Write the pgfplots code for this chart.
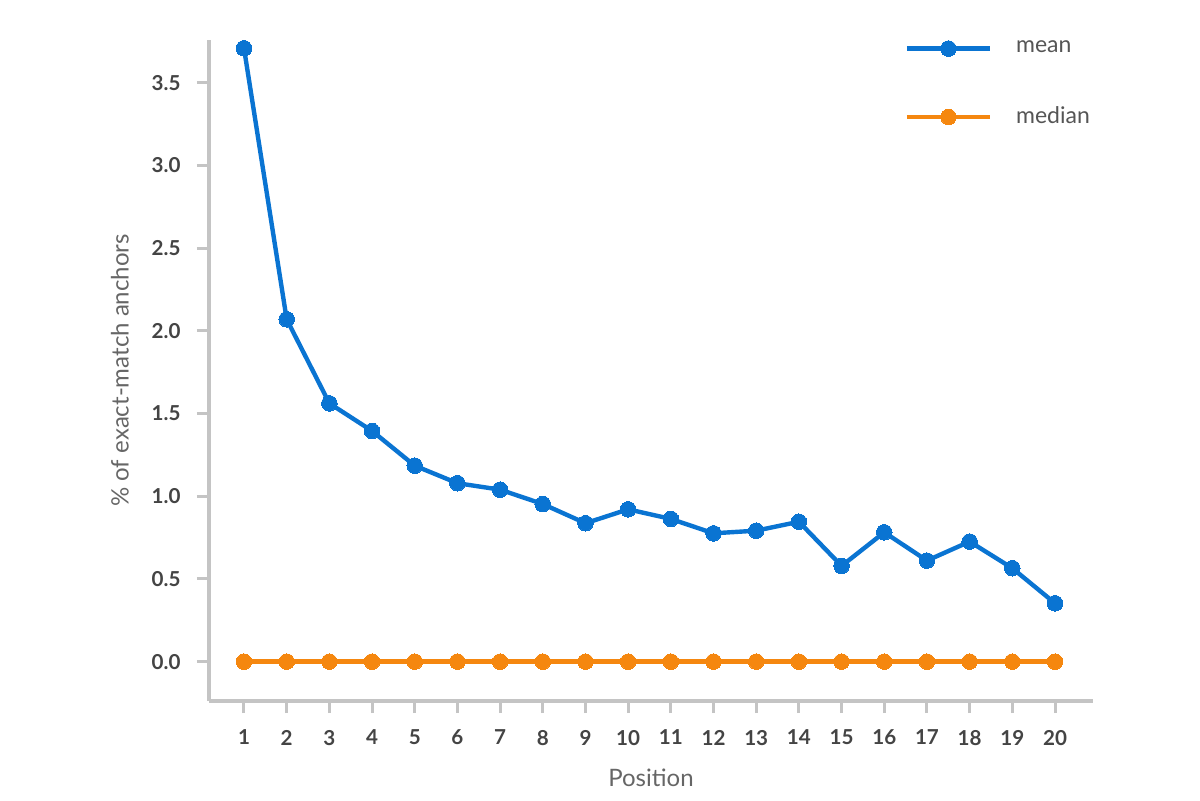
\documentclass[border=0pt]{standalone}
\usepackage{fontspec}
\setmainfont{Lato}
\usepackage{pgfplots}
\pgfplotsset{compat=1.18}
\definecolor{meanblue}{HTML}{0A74D2}
\definecolor{medorange}{HTML}{F5870F}
\definecolor{axgray}{HTML}{C4C4C4}
\definecolor{tickgray}{HTML}{444444}
\definecolor{labgray}{HTML}{666666}
\definecolor{leggray}{HTML}{555555}
\begin{document}
\begin{tikzpicture}
\useasboundingbox (-104.5pt,-49.5pt) rectangle (495.5pt,350.5pt);
\begin{axis}[
  at={(0pt,0pt)}, anchor=south west,
  scale only axis, width=442pt, height=330.5pt,
  xmin=0.18, xmax=20.89, ymin=-0.238, ymax=3.759,
  axis lines*=left,
  axis line style={axgray, line width=2pt},
  xtick={1,2,...,20}, ytick={0,0.5,1,1.5,2,2.5,3,3.5},
  y tick label style={/pgf/number format/fixed, /pgf/number format/fixed zerofill, /pgf/number format/precision=1},
  /pgf/number format/assume math mode=true,
  tick label style={font=\bfseries\fontsize{10.3}{12}\selectfont, text=tickgray},
  x tick label style={yshift=-5pt},
  y tick label style={xshift=-4.7pt},
  tick align=outside, major tick length=6pt,
  tick style={axgray, line width=1.5pt},
  xlabel={Position}, ylabel={\% of exact-match anchors},
  label style={font=\fontsize{12}{14}\selectfont, text=labgray},
  xlabel style={at={(axis description cs:0.5,-0.1165)}, anchor=center},
  ylabel style={at={(axis description cs:-0.1007,0.5)}, anchor=center},
  legend style={at={(axis description cs:0.7866,1.005)}, anchor=north west,
    draw=none, fill=none, inner sep=0pt, font=\fontsize{11.5}{13}\selectfont, text=leggray,
    row sep=21.5pt, column sep=10pt},
  legend cell align=left,
  legend image code/.code={\draw[mark repeat=2,mark phase=2,#1] plot coordinates {(0pt,0pt) (20.75pt,0pt) (41.5pt,0pt)};},
  clip=false,
]
\addplot[meanblue, line width=2.2pt, mark=*, mark size=3.9pt, mark options={solid, fill=meanblue, draw=meanblue, line width=0pt}] coordinates {
(1,3.709) (2,2.070) (3,1.562) (4,1.395) (5,1.185) (6,1.079) (7,1.040) (8,0.953) (9,0.837) (10,0.921)
(11,0.863) (12,0.776) (13,0.792) (14,0.846) (15,0.579) (16,0.782) (17,0.611) (18,0.726) (19,0.565) (20,0.353)
};
\addlegendentry{mean}
\addplot[medorange, line width=2.2pt, mark=*, mark size=3.9pt, mark options={solid, fill=medorange, draw=medorange, line width=0pt}] coordinates {
(1,0) (2,0) (3,0) (4,0) (5,0) (6,0) (7,0) (8,0) (9,0) (10,0)
(11,0) (12,0) (13,0) (14,0) (15,0) (16,0) (17,0) (18,0) (19,0) (20,0)
};
\addlegendentry{median}
\end{axis}
\end{tikzpicture}
\end{document}
